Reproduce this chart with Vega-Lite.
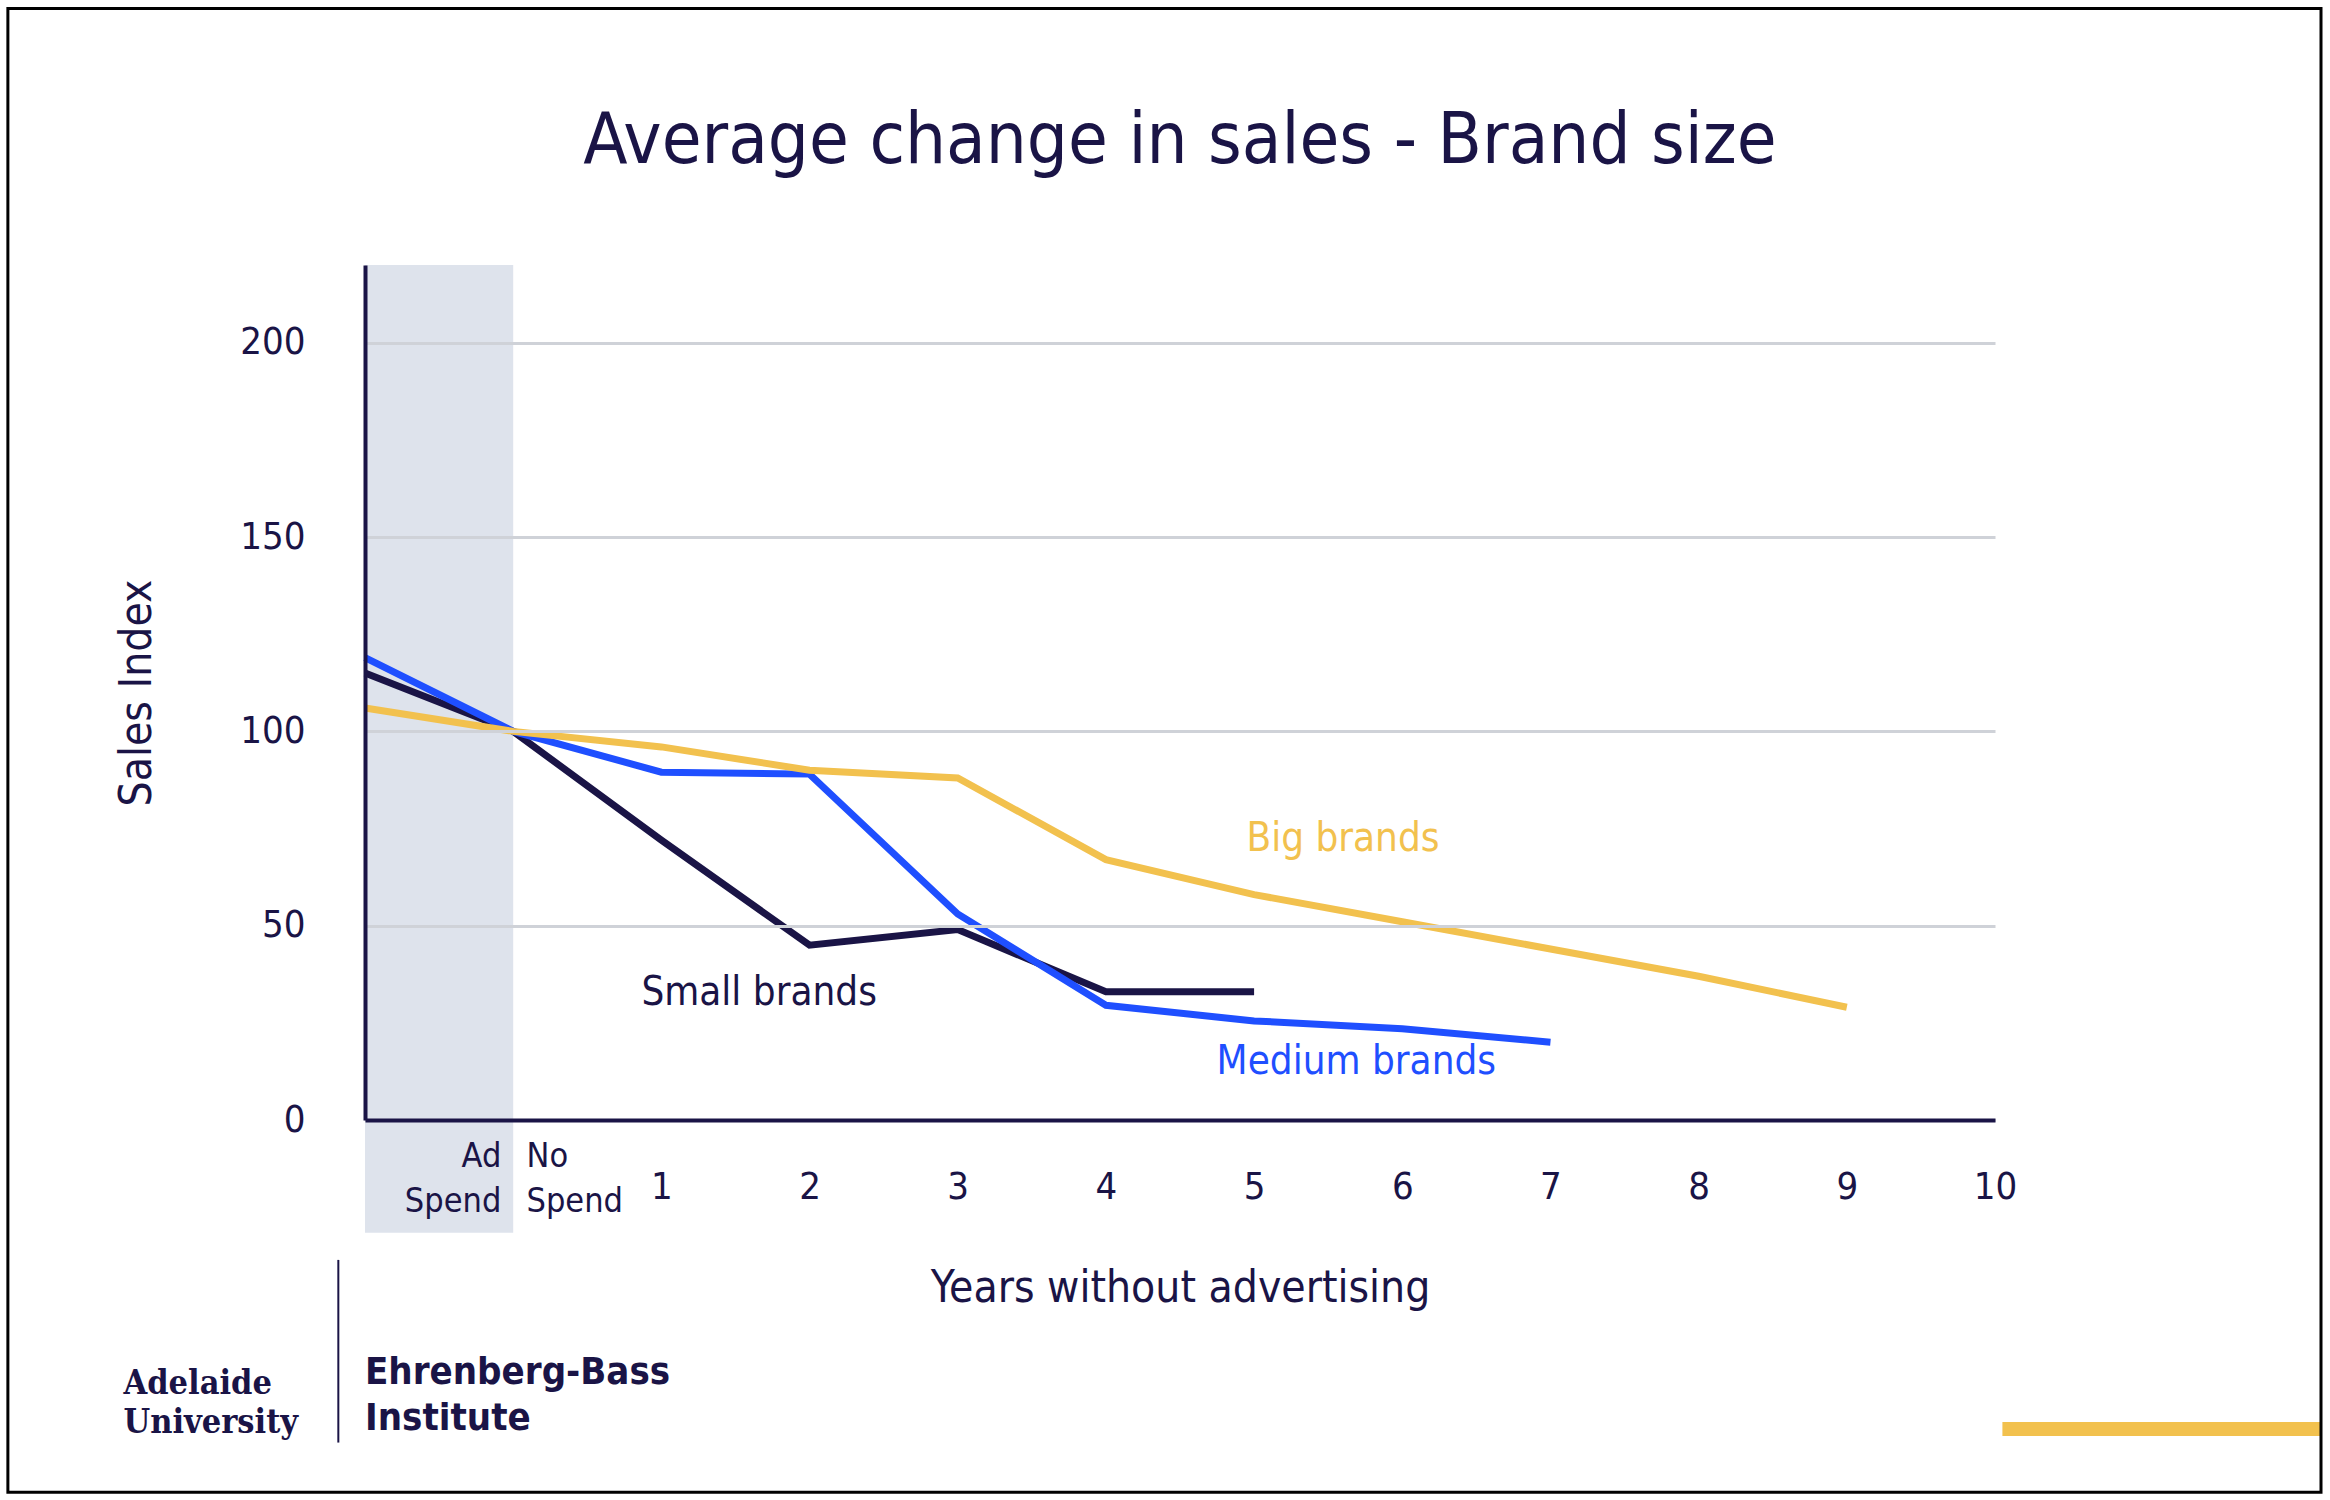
{
"$schema":"https://vega.github.io/schema/vega-lite/v6.json",
"width":1630,"height":855,"autosize":"none",
"padding":{"left":365,"top":265,"right":335,"bottom":380},
"background":"white",
"config":{"font":"DejaVu Sans Condensed","view":{"stroke":null}},
"layer":[
{"data":{"values":[{"x1":-1,"x2":0,"y1":-29,"y2":220}]},"mark":{"type":"rect","color":"#d3d9e5","opacity":0.75,"clip":false},
"encoding":{"x":{"field":"x1","type":"quantitative","scale":{"domain":[-1,10],"nice":false},
  "axis":{"values":[1,2,3,4,5,6,7,8,9,10],"format":"d","title":"Years without advertising","titleFont":"DejaVu Sans Condensed","titleFontSize":44,"titleFontWeight":"normal","titleColor":"#1a1446","titlePadding":60,"labelFont":"DejaVu Sans Condensed","labelFontSize":38,"labelColor":"#1a1446","labelPadding":48,"ticks":false,"domainColor":"#1a1446","domainWidth":4,"grid":false,"labelFlush":false,"zindex":1}},
 "x2":{"field":"x2"},
 "y":{"field":"y1","type":"quantitative","scale":{"domain":[0,220],"nice":false},
  "axis":{"values":[0,50,100,150,200],"format":"d","title":"Sales Index","titleFont":"DejaVu Sans Condensed","titleFontSize":44,"titleFontWeight":"normal","titleColor":"#1a1446","titlePadding":80,"labelFont":"DejaVu Sans Condensed","labelFontSize":38,"labelColor":"#1a1446","labelPadding":60,"ticks":false,"domainColor":"#1a1446","domainWidth":4,"gridColor":"#cfd2d8","gridWidth":3,"zindex":1}},
 "y2":{"field":"y2"}}},
{"data":{"values":[
{"s":"Small","x":-1,"y":115},{"s":"Small","x":0,"y":100},{"s":"Small","x":1,"y":72},{"s":"Small","x":2,"y":45},{"s":"Small","x":3,"y":49},{"s":"Small","x":4,"y":33},{"s":"Small","x":5,"y":33},
{"s":"Medium","x":-1,"y":119},{"s":"Medium","x":0,"y":100},{"s":"Medium","x":1,"y":89.5},{"s":"Medium","x":2,"y":89},{"s":"Medium","x":3,"y":53},{"s":"Medium","x":4,"y":29.5},{"s":"Medium","x":5,"y":25.5},{"s":"Medium","x":6,"y":23.5},{"s":"Medium","x":7,"y":20},
{"s":"Big","x":-1,"y":106},{"s":"Big","x":0,"y":100},{"s":"Big","x":1,"y":96},{"s":"Big","x":2,"y":90},{"s":"Big","x":3,"y":88},{"s":"Big","x":4,"y":67},{"s":"Big","x":5,"y":58},{"s":"Big","x":6,"y":51},{"s":"Big","x":7,"y":44},{"s":"Big","x":8,"y":37},{"s":"Big","x":9,"y":29}]},
"mark":{"type":"line","strokeWidth":7},
"encoding":{"x":{"field":"x","type":"quantitative"},"y":{"field":"y","type":"quantitative"},
"color":{"field":"s","type":"nominal","scale":{"domain":["Big","Medium","Small"],"range":["#f2c14e","#1f4fff","#1a1446"]},"legend":null},
"order":{"field":"x"}}},
{"data":{"values":[
{"t":"Big brands","x":5.6,"y":72.4,"c":"#f2c14e"},
{"t":"Small brands","x":1.66,"y":32.6,"c":"#1a1446"},
{"t":"Medium brands","x":5.69,"y":15,"c":"#1f4fff"}]},
"mark":{"type":"text","fontSize":40,"clip":false,"align":"center"},
"encoding":{"x":{"field":"x","type":"quantitative"},"y":{"field":"y","type":"quantitative"},"text":{"field":"t"},"color":{"field":"c","type":"nominal","scale":null}}},
{"data":{"values":[{"t":"Ad","x":-0.08,"y":-9.5},{"t":"Spend","x":-0.08,"y":-21}]},
"mark":{"type":"text","fontSize":34,"clip":false,"align":"right","color":"#1a1446"},
"encoding":{"x":{"field":"x","type":"quantitative"},"y":{"field":"y","type":"quantitative"},"text":{"field":"t"}}},
{"data":{"values":[{"t":"No","x":0.09,"y":-9.5},{"t":"Spend","x":0.09,"y":-21}]},
"mark":{"type":"text","fontSize":34,"clip":false,"align":"left","color":"#1a1446"},
"encoding":{"x":{"field":"x","type":"quantitative"},"y":{"field":"y","type":"quantitative"},"text":{"field":"t"}}},
{"data":{"values":[{"t":"Average change in sales - Brand size","x":4.5,"y":252}]},
"mark":{"type":"text","fontSize":72,"clip":false,"align":"center","color":"#1a1446"},
"encoding":{"x":{"field":"x","type":"quantitative"},"y":{"field":"y","type":"quantitative"},"text":{"field":"t"}}},
{"data":{"values":[{"t":"Ehrenberg-Bass","x":-1,"y":-65},{"t":"Institute","x":-1,"y":-77}]},
"mark":{"type":"text","fontSize":38,"fontWeight":"bold","align":"left","color":"#1a1446","clip":false},
"encoding":{"x":{"field":"x","type":"quantitative"},"y":{"field":"y","type":"quantitative"},"text":{"field":"t"}}},
{"data":{"values":[{"t":"Adelaide","x":-2.63,"y":-68},{"t":"University","x":-2.63,"y":-78}]},
"mark":{"type":"text","fontSize":34,"fontWeight":"bold","align":"left","font":"DejaVu Serif Condensed","color":"#1a1446","clip":false},
"encoding":{"x":{"field":"x","type":"quantitative"},"y":{"field":"y","type":"quantitative"},"text":{"field":"t"}}},
{"data":{"values":[{"x":-1.18,"y":-36},{"x":-1.18,"y":-83}]},"mark":{"type":"line","color":"#1a1446","strokeWidth":2,"clip":false},
"encoding":{"x":{"field":"x","type":"quantitative"},"y":{"field":"y","type":"quantitative"}}},
{"data":{"values":[{"x":10.05,"y":-79.5},{"x":12.2,"y":-79.5}]},"mark":{"type":"line","color":"#f2c14e","strokeWidth":14,"clip":false},
"encoding":{"x":{"field":"x","type":"quantitative"},"y":{"field":"y","type":"quantitative"}}},
{"data":{"values":[{"x1":-3.41,"x2":12.2,"y1":-95.8,"y2":286}]},"mark":{"type":"rect","fill":null,"stroke":"black","strokeWidth":3,"clip":false},
"encoding":{"x":{"field":"x1","type":"quantitative"},"x2":{"field":"x2"},"y":{"field":"y1","type":"quantitative"},"y2":{"field":"y2"}}}
]}
